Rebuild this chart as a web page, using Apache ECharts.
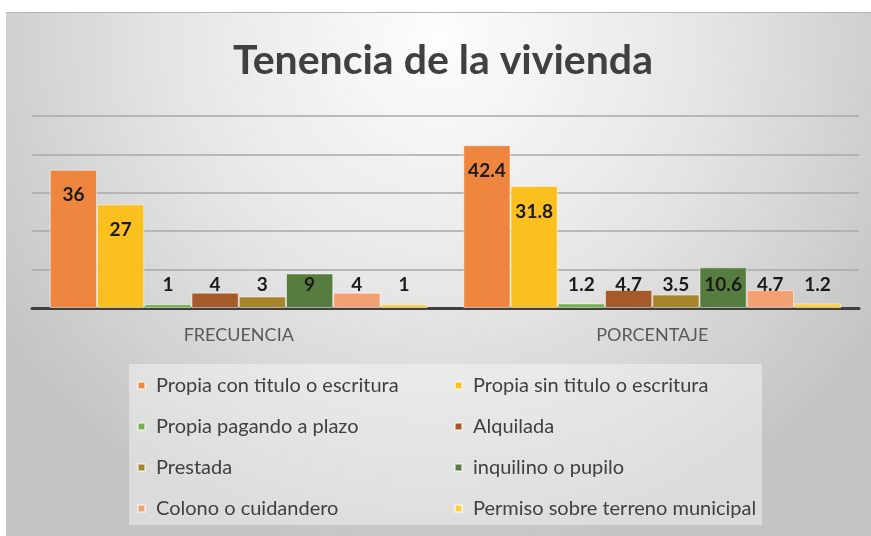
<!DOCTYPE html>
<html>
<head>
<meta charset="utf-8">
<script src="https://cdn.jsdelivr.net/npm/echarts@6/dist/echarts.min.js"></script>
<style>
  html, body { margin: 0; padding: 0; background: #fff; }
  #chart { width: 871px; height: 536px; }
</style>
</head>
<body>
<div id="chart"></div>
<script>
const categories = ['FRECUENCIA', 'PORCENTAJE'];
const seriesNames = [
    'Propia con titulo o escritura',
    'Propia sin titulo o escritura',
    'Propia pagando a plazo',
    'Alquilada',
    'Prestada',
    'inquilino o pupilo',
    'Colono o cuidandero',
    'Permiso sobre terreno municipal'
];
const frecuencia = [36, 27, 1, 4, 3, 9, 4, 1];
const porcentaje = [42.4, 31.8, 1.2, 4.7, 3.5, 10.6, 4.7, 1.2];
const colors = ['#EE8640', '#F9C01F', '#74B04C', '#A65A2A', '#A7852A', '#567D3F', '#F3A072', '#FDD044'];

const chart = echarts.init(document.getElementById('chart'));

// tall bars get the label inside at the top, short ones sit on a common line
function point(v) {
    const tall = v >= 20;
    return {
        value: v,
        label: {
            position: tall ? 'insideTop' : 'insideBottom',
            distance: tall ? 16 : 14
        }
    };
}

const series = seriesNames.map((name, i) => ({
    name: name,
    type: 'bar',
    barGap: 0,
    barCategoryGap: '8.6%',
    itemStyle: {
        color: colors[i],
        borderColor: 'rgba(255,255,255,0.5)',
        borderWidth: 1
    },
    label: {
        show: true,
        color: '#1a1a1a',
        fontFamily: 'Lato',
        fontWeight: 'bold',
        fontSize: 19
    },
    data: [point(frecuencia[i]), point(porcentaje[i])]
}));

chart.setOption({
    animation: false,
    color: colors,
    graphic: [
        {
            type: 'rect',
            z: -10,
            shape: { x: 6, y: 12, width: 865, height: 524 },
            style: {
                fill: new echarts.graphic.RadialGradient(0.5, 0.05, 1.0, [
                    { offset: 0, color: '#fdfdfd' },
                    { offset: 0.5, color: '#e6e6e6' },
                    { offset: 1, color: '#c4c4c4' }
                ]),
                stroke: null
            }
        },
        {
            type: 'line',
            z: -9,
            shape: { x1: 6, y1: 12.5, x2: 871, y2: 12.5 },
            style: { stroke: '#b4b4b4', lineWidth: 1 }
        },
        {
            type: 'rect',
            z: -8,
            shape: { x: 129, y: 364, width: 633, height: 161 },
            style: { fill: 'rgba(255,255,255,0.4)' }
        }
    ],
    title: {
        text: 'Tenencia de la vivienda',
        left: 233,
        top: 40,
        padding: 0,
        textStyle: {
            fontFamily: 'Lato',
            fontWeight: 'bold',
            fontSize: 41,
            color: '#404040'
        }
    },
    legend: {
        left: 137,
        top: 374,
        width: 640,
        padding: 0,
        itemGap: 18,
        itemWidth: 7,
        itemHeight: 7,
        icon: 'rect',
        textStyle: {
            fontFamily: 'Lato',
            fontSize: 20,
            color: '#404040',
            width: 280,
            lineHeight: 23,
            padding: [0, 0, 0, 6]
        },
        data: seriesNames
    },
    grid: { left: 32, right: 12, top: 116, bottom: 228 },
    xAxis: {
        type: 'category',
        data: categories,
        axisTick: { show: false },
        axisLine: { lineStyle: { color: '#3f3f3f', width: 3 } },
        axisLabel: {
            margin: 18,
            fontFamily: 'Lato',
            fontSize: 18,
            color: '#595959'
        }
    },
    yAxis: {
        type: 'value',
        min: 0,
        max: 50,
        interval: 10,
        axisLine: { show: false },
        axisTick: { show: false },
        axisLabel: { show: false },
        splitLine: { lineStyle: { color: '#a9a9a9', width: 1.5 } }
    },
    series: series
});
</script>
</body>
</html>
